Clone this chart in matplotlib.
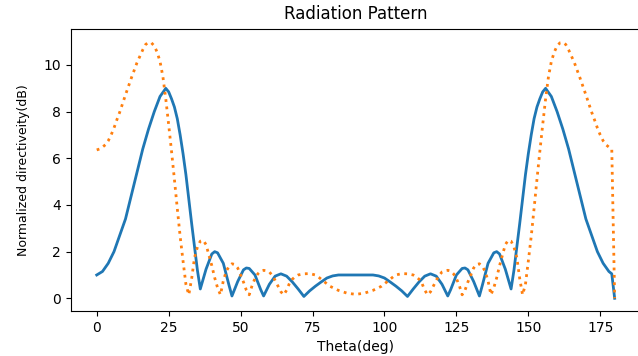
import matplotlib
matplotlib.use("Agg")
import matplotlib.pyplot as plt

# blue curve (solid)
theta_blue = [0, 2, 4, 6, 8, 10, 12, 14, 16, 18, 20, 22, 24, 25, 26, 27, 28, 29, 30,
              31, 32, 33, 34, 35, 36, 38, 40, 41, 42, 44, 46, 47, 49, 51, 52, 53, 55,
              57, 58, 60, 62, 64, 66, 68, 70, 72, 74, 76, 78, 80, 82, 84, 90,
              96, 98, 100, 102, 104, 106, 108, 110, 112, 114, 116, 118, 120, 122, 123,
              125, 127, 128, 129, 131, 133, 134, 136, 138, 139, 140, 142, 144, 145,
              146, 147, 148, 149, 150, 151, 152, 153, 154, 155, 156, 158, 160, 162,
              164, 166, 168, 170, 172, 174, 176, 178, 179, 180]
dir_blue = [1.00, 1.15, 1.50, 2.00, 2.70, 3.40, 4.40, 5.40, 6.40, 7.25, 8.00, 8.65,
            9.00, 8.85, 8.55, 8.20, 7.70, 7.00, 6.20, 5.30, 4.25, 3.20, 2.20, 1.20,
            0.40, 1.25, 1.90, 2.00, 1.95, 1.50, 0.55, 0.10, 0.72, 1.22, 1.30, 1.28,
            1.00, 0.37, 0.10, 0.60, 0.95, 1.05, 0.95, 0.70, 0.40, 0.08, 0.32, 0.52,
            0.70, 0.87, 0.96, 1.00, 1.00,
            1.00, 0.96, 0.87, 0.70, 0.52, 0.32, 0.08, 0.40, 0.70, 0.95, 1.05, 0.95,
            0.60, 0.10, 0.37, 1.00, 1.28, 1.30, 1.22, 0.72, 0.10, 0.55, 1.50, 1.95,
            2.00, 1.90, 1.25, 0.40, 1.20, 2.20, 3.20, 4.25, 5.30, 6.20, 7.00, 7.70,
            8.20, 8.55, 8.85, 9.00, 8.65, 8.00, 7.25, 6.40, 5.40, 4.40, 3.40, 2.70,
            2.00, 1.50, 1.15, 1.05, 0.00]

# orange curve (dotted)
theta_orange = [0, 1, 2, 3, 4, 5, 6, 7, 8, 10, 12, 14, 16, 17, 18, 19, 20, 21, 22, 23,
                24, 25, 26, 27, 28, 29, 30, 31, 32, 33, 34, 35, 36, 37, 38, 39, 40, 41,
                42, 43, 44, 45, 46, 47, 48, 49, 50, 51, 52, 53, 54, 55, 56, 57, 58, 59,
                60, 61, 62, 63, 64, 65, 66, 67, 68, 69, 70, 72, 74, 76, 77, 79, 81, 84,
                87, 90, 93, 96, 99, 101, 103, 104, 106, 108, 110, 111, 112, 113, 114,
                115, 116, 117, 118, 119, 120, 121, 122, 123, 124, 125, 126, 127, 128,
                129, 130, 131, 132, 133, 134, 135, 136, 137, 138, 139, 140, 141, 142,
                143, 144, 145, 146, 147, 148, 149, 150, 151, 152, 153, 154, 155, 156,
                157, 158, 159, 160, 161, 162, 163, 164, 166, 168, 170, 172, 173, 174,
                175, 176, 177, 178, 179, 180]
dir_orange = [6.36, 6.40, 6.48, 6.58, 6.75, 7.00, 7.30, 7.65, 7.98, 8.72, 9.43, 10.10,
              10.65, 10.88, 10.97, 10.95, 10.82, 10.55, 10.15, 9.50, 8.55, 7.45, 6.30,
              5.10, 3.85, 2.65, 1.60, 0.60, 0.15, 0.85, 1.75, 2.20, 2.45, 2.49, 2.30,
              1.85, 1.40, 0.88, 0.45, 0.15, 0.75, 1.15, 1.38, 1.48, 1.45, 1.30, 1.00,
              0.70, 0.35, 0.15, 0.55, 0.85, 1.05, 1.17, 1.20, 1.18, 1.13, 0.98, 0.77,
              0.52, 0.28, 0.15, 0.35, 0.65, 0.82, 0.93, 1.00, 1.05, 1.06, 1.00, 0.92,
              0.72, 0.52, 0.34, 0.22, 0.17, 0.22, 0.34, 0.52, 0.72, 0.92, 1.00, 1.06,
              1.05, 1.00, 0.93, 0.82, 0.65, 0.35, 0.15, 0.28, 0.52, 0.77, 0.98, 1.13,
              1.18, 1.20, 1.17, 1.05, 0.85, 0.55, 0.15, 0.35, 0.70, 1.00, 1.30, 1.45,
              1.48, 1.38, 1.15, 0.75, 0.15, 0.45, 0.88, 1.40, 1.85, 2.30, 2.49, 2.45,
              2.20, 1.75, 0.85, 0.15, 0.60, 1.60, 2.65, 3.85, 5.10, 6.30, 7.45, 8.55,
              9.50, 10.15, 10.55, 10.82, 10.95, 10.97, 10.88, 10.65, 10.10, 9.43, 8.72,
              7.98, 7.65, 7.30, 7.00, 6.75, 6.58, 6.48, 6.40, 0.00]

fig = plt.figure(figsize=(6.38, 3.56), dpi=100)
ax = fig.add_axes([0.111, 0.126, 0.893, 0.793])

ax.plot(theta_blue, dir_blue, color='#1f77b4', lw=2)
ax.plot(theta_orange, dir_orange, color='#ff7f0e', lw=2, ls=':')

ax.set_xlim(-9, 189)
ax.set_ylim(-0.55, 11.55)
ax.set_title('Radiation Pattern', fontsize=12, pad=7)
ax.set_xlabel('Theta(deg)', fontsize=10)
ax.set_ylabel('Normalized directiveity(dB)', fontsize=9, labelpad=10)

fig.savefig('out.png', dpi=100)
